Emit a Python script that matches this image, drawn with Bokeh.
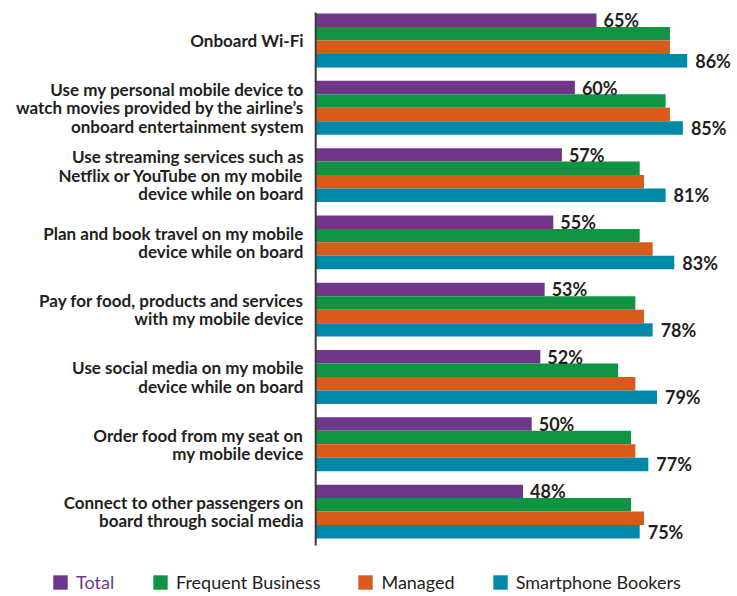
from bokeh.plotting import figure
from bokeh.models import Range1d, ColumnDataSource, Legend, LegendItem
from bokeh.transform import dodge
from bokeh.core.properties import value
from bokeh.embed import file_html
from bokeh.resources import INLINE

categories = [
    "Onboard Wi-Fi",
    "Use my personal mobile device to\nwatch movies provided by the airline\u2019s\nonboard entertainment system",
    "Use streaming services such as\nNetflix or YouTube on my mobile\ndevice while on board",
    "Plan and book travel on my mobile\ndevice while on board",
    "Pay for food, products and services\nwith my mobile device",
    "Use social media on my mobile\ndevice while on board",
    "Order food from my seat on\nmy mobile device",
    "Connect to other passengers on\nboard through social media",
]
series_names = ["Total", "Frequent Business", "Managed", "Smartphone Bookers"]
total = [65, 60, 57, 55, 53, 52, 50, 48]
frequent_business = [82, 81, 75, 75, 74, 70, 73, 73]
managed = [82, 82, 76, 78, 76, 74, 74, 76]
smartphone_bookers = [86, 85, 81, 83, 78, 79, 77, 75]

colors = ["#6F378A", "#0F9444", "#D95B1C", "#0088A8"]
TEXT = "#231F20"
FONT = "Lato"

src = ColumnDataSource(dict(
    y=list(range(len(categories))),
    cat=categories,
    total=total,
    frequent=frequent_business,
    managed=managed,
    smart=smartphone_bookers,
    total_lbl=[f"{v}%" for v in total],
    smart_lbl=[f"{v}%" for v in smartphone_bookers],
))

p = figure(width=737, height=596, output_backend="svg", toolbar_location=None,
           x_range=Range1d(-72.96, 97.64), y_range=Range1d(8.262, -0.594),
           x_axis_location=None, y_axis_location=None, min_border=0)
p.grid.visible = False
p.outline_line_color = None
p.background_fill_color = "white"
p.border_fill_color = "white"

cols = ["total", "frequent", "managed", "smart"]
offsets = [-0.3, -0.1, 0.1, 0.3]
renderers = []
for c, off, col in zip(cols, offsets, colors):
    r = p.hbar(y=dodge("y", off), left=0, right=c, height=0.2, source=src,
               fill_color=col, line_color=None)
    renderers.append(r)

# axis line
p.segment(x0=0, y0=-0.416, x1=0, y1=7.504, line_width=2, line_color="#3a3a3a")

# value labels
p.text(x="total", y=dodge("y", -0.3), text="total_lbl", source=src, x_offset=7,
       text_baseline="middle", text_align="left", text_font=value(FONT),
       text_font_style="bold", text_font_size="18px", text_color=TEXT)
p.text(x="smart", y=dodge("y", 0.3), text="smart_lbl", source=src, x_offset=8,
       text_baseline="middle", text_align="left", text_font=value(FONT),
       text_font_style="bold", text_font_size="18px", text_color=TEXT)

# category labels
p.text(x=0, y="y", text="cat", source=src, x_offset=-12,
       text_baseline="middle", text_align="right", text_font=value(FONT),
       text_font_style="bold", text_font_size="17px", text_color=TEXT,
       text_line_height=0.87)

common = dict(orientation="horizontal", border_line_color=None,
              background_fill_alpha=0, padding=0, margin=0, spacing=36,
              glyph_width=18, glyph_height=18, label_height=18,
              label_standoff=7, label_text_font=FONT,
              label_text_font_size="18px", label_text_baseline="middle")

leg1 = Legend(items=[LegendItem(label=series_names[0], renderers=[renderers[0]])],
              location=(51, 3), label_text_color=colors[0], **common)
leg2 = Legend(items=[LegendItem(label=n, renderers=[r]) for n, r in zip(series_names[1:], renderers[1:])],
              location=(151, 3), label_text_color=TEXT, **common)
p.add_layout(leg1)
p.add_layout(leg2)

open("out.html", "w").write(file_html(p, INLINE))
